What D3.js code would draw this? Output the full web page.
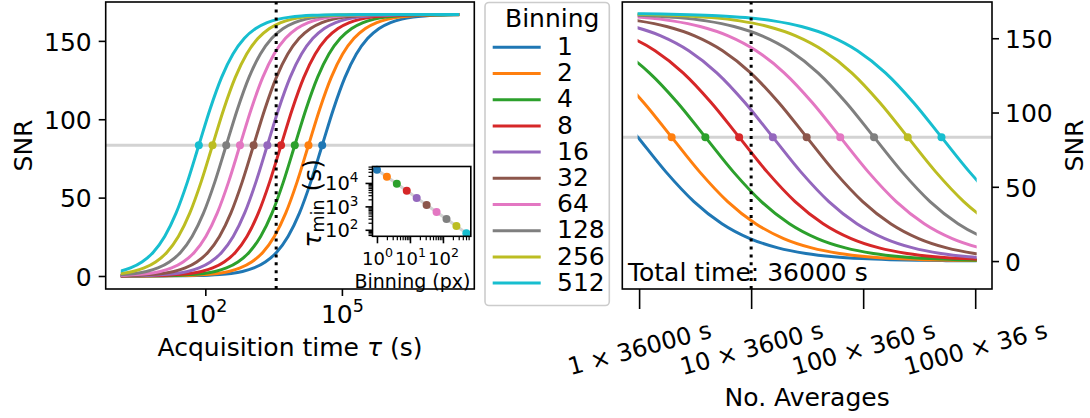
<!DOCTYPE html>
<html>
<head>
<meta charset="utf-8">
<script src="https://cdn.jsdelivr.net/npm/d3@7"></script>
<style>
  body { margin: 0; background: #fff; }
  svg { display: block; font-family: "DejaVu Sans", sans-serif; }
</style>
</head>
<body>
<div id="chart"></div>
<script>
// Data
const binning = [1, 2, 4, 8, 16, 32, 64, 128, 256, 512];
const colors = ["#1f77b4", "#ff7f0e", "#2ca02c", "#d62728", "#9467bd",
                "#8c564b", "#e377c2", "#7f7f7f", "#bcbd22", "#17becf"];
// time to reach half the maximum SNR, per binning (s) - inset values
const tauMin = [36900, 18450, 9225, 4610, 2305, 1150, 577, 288, 144, 72];
// every curve has the same profile: SNR against log10(tau / tau_min)
const profileLogRatio = [-4.75, -4.5, -4.25, -4, -3.75, -3.5, -3.25, -3, -2.75, -2.5,
                         -2.25, -2, -1.75, -1.5, -1.25, -1, -0.75, -0.5, -0.25, 0,
                         0.25, 0.5, 0.75, 1, 1.25, 1.5, 1.75, 2, 2.25, 2.5,
                         2.75, 3, 3.25, 3.5, 3.75, 4, 4.5, 5, 5.5, 6];
const profileSNR = [0.003, 0.005, 0.009, 0.017, 0.030, 0.053, 0.094, 0.167, 0.296, 0.526,
                    0.933, 1.65, 2.91, 5.11, 8.88, 15.16, 25.18, 40.07, 60.04, 83.40,
                    106.76, 126.73, 141.62, 151.64, 157.92, 161.69, 163.89, 165.15, 165.87, 166.27,
                    166.50, 166.63, 166.71, 166.75, 166.77, 166.78, 166.79, 166.80, 166.80, 166.80];
const halfSNR = 83.4;
const tauRange = [1.5, 3.5e7];
const markTime = 3600;
const totalTime = 36000;
const averages = [1, 10, 100, 1000];
const averageLabels = ["1 × 36000 s", "10 × 3600 s", "100 × 360 s", "1000 × 36 s"];
const markAverages = 10;
const snrTicks = [0, 50, 100, 150];
const timeTicks = [1e2, 1e5];
const insetXTicks = [1, 10, 100];
const insetXMinor = [2, 3, 4, 5, 6, 7, 8, 9, 20, 30, 40, 50, 60, 70, 80, 90, 200, 300, 400, 500, 600];
const insetYTicks = [1e2, 1e3, 1e4];
const insetYMinor = [60, 70, 80, 90, 200, 300, 400, 500, 600, 700, 800, 900,
                     2000, 3000, 4000, 5000, 6000, 7000, 8000, 9000, 20000, 30000, 40000, 50000];

const W = 1090, H = 418;
const FS = 25;
const boxL = {x0: 105.7, x1: 474.3, y0: 2, y1: 289};
const boxR = {x0: 622.3, x1: 992, y0: 2, y1: 289};
const boxI = {x0: 372.5, x1: 470.8, y0: 166.5, y1: 236.3};

const svg = d3.select("#chart").append("svg")
    .attr("width", W)
    .attr("height", H);
svg.append("rect").attr("width", W).attr("height", H).attr("fill", "#fff");

const xL = d3.scaleLog().domain([0.6486, 8.09e7]).range([boxL.x0, boxL.x1]);
const yL = d3.scaleLinear().domain([-8.3, 174.8]).range([boxL.y1, boxL.y0]);
const xR = d3.scaleLog().domain([0.7079, 1412.5]).range([boxR.x0, boxR.x1]);
const yR = d3.scaleLinear().domain([-18.8, 174.4]).range([boxR.y1, boxR.y0]);
const xI = d3.scaleLog().domain([0.7328, 698.2]).range([boxI.x0, boxI.x1]);
const yI = d3.scaleLog().domain([52.72, 50466]).range([boxI.y1, boxI.y0]);

const defs = svg.append("defs");
defs.append("clipPath").attr("id", "clipL").append("rect")
    .attr("x", xL(tauRange[0]) - 1.5).attr("y", 0)
    .attr("width", xL(tauRange[1]) - xL(tauRange[0]) + 3).attr("height", H);
defs.append("clipPath").attr("id", "clipR").append("rect")
    .attr("x", xR(averages[0]) - 1.5).attr("y", 0)
    .attr("width", xR(averages[3]) - xR(averages[0]) + 3).attr("height", H);

function styleAxis(g, size) {
    g.attr("font-family", null).attr("font-size", size);
    g.select(".domain").remove();
    g.selectAll(".tick line").attr("stroke", "#000").attr("stroke-width", 1.6);
    g.selectAll(".tick text").attr("fill", "#000");
}

function pow10(sel, supSize, raise) {
    sel.each(function(d) {
        const t = d3.select(this).text(null);
        t.append("tspan").text("10");
        t.append("tspan").attr("font-size", supSize).attr("dy", -raise)
            .text(Math.round(Math.log10(d)));
    });
}

function frame(box) {
    svg.append("rect")
        .attr("x", box.x0).attr("y", box.y0)
        .attr("width", box.x1 - box.x0).attr("height", box.y1 - box.y0)
        .attr("fill", "none").attr("stroke", "#000").attr("stroke-width", 1.6);
}

// ---- left panel: SNR vs acquisition time
svg.append("line")
    .attr("x1", boxL.x0).attr("x2", boxL.x1)
    .attr("y1", yL(halfSNR)).attr("y2", yL(halfSNR))
    .attr("stroke", "#d3d3d3").attr("stroke-width", 3);

const lineL = d3.line().x(d => xL(d[0])).y(d => yL(d[1])).curve(d3.curveMonotoneX);
const gL = svg.append("g").attr("clip-path", "url(#clipL)");
tauMin.forEach((t0, k) => {
    const pts = profileLogRatio.map((r, j) => [t0 * Math.pow(10, r), profileSNR[j]]);
    gL.append("path")
        .attr("d", lineL(pts))
        .attr("fill", "none")
        .attr("stroke", colors[k])
        .attr("stroke-width", 3);
});

svg.selectAll(".dotL")
    .data(tauMin)
    .enter().append("circle")
    .attr("class", "dotL")
    .attr("cx", d => xL(d))
    .attr("cy", yL(halfSNR))
    .attr("r", 4)
    .attr("fill", (d, i) => colors[i]);

svg.append("line")
    .attr("x1", xL(markTime)).attr("x2", xL(markTime))
    .attr("y1", boxL.y1).attr("y2", boxL.y0)
    .attr("stroke", "#000").attr("stroke-width", 3)
    .attr("stroke-dasharray", "3,4.9");

frame(boxL);

const gxL = svg.append("g")
    .attr("transform", `translate(0,${boxL.y1})`)
    .call(d3.axisBottom(xL).tickValues(timeTicks).tickSize(7).tickPadding(7));
styleAxis(gxL, FS);
gxL.selectAll(".tick text").attr("y", 34.3).attr("dy", null).call(pow10, 17.5, 11);

const gyL = svg.append("g")
    .attr("transform", `translate(${boxL.x0},0)`)
    .call(d3.axisLeft(yL).tickValues(snrTicks).tickSize(7).tickPadding(7));
styleAxis(gyL, FS);
gyL.selectAll(".tick text").attr("dy", "0.37em");

svg.append("text")
    .attr("transform", `translate(31.5,${(boxL.y0 + boxL.y1) / 2}) rotate(-90)`)
    .attr("text-anchor", "middle").attr("font-size", FS)
    .text("SNR");

const xlab = svg.append("text")
    .attr("x", (boxL.x0 + boxL.x1) / 2).attr("y", 356)
    .attr("text-anchor", "middle").attr("font-size", FS);
xlab.append("tspan").text("Acquisition time ");
xlab.append("tspan").attr("font-style", "italic").text("τ");
xlab.append("tspan").text(" (s)");

// ---- inset: tau_min vs binning
svg.append("rect")
    .attr("x", boxI.x0).attr("y", boxI.y0)
    .attr("width", boxI.x1 - boxI.x0).attr("height", boxI.y1 - boxI.y0)
    .attr("fill", "#fff");

svg.append("path")
    .attr("d", d3.line().x((d, i) => xI(binning[i])).y(d => yI(d))(tauMin))
    .attr("fill", "none").attr("stroke", "#d3d3d3").attr("stroke-width", 3);

svg.selectAll(".dotI")
    .data(tauMin)
    .enter().append("circle")
    .attr("class", "dotI")
    .attr("cx", (d, i) => xI(binning[i]))
    .attr("cy", d => yI(d))
    .attr("r", 4)
    .attr("fill", (d, i) => colors[i]);

frame(boxI);

const gxI = svg.append("g")
    .attr("transform", `translate(0,${boxI.y1})`)
    .call(d3.axisBottom(xI).tickValues(insetXTicks).tickSize(7).tickPadding(7));
styleAxis(gxI, 18);
gxI.selectAll(".tick text").attr("y", 28.5).attr("dy", null).call(pow10, 12.6, 7.5);

const gxIm = svg.append("g")
    .attr("transform", `translate(0,${boxI.y1})`)
    .call(d3.axisBottom(xI).tickValues(insetXMinor).tickSize(4).tickFormat(""));
styleAxis(gxIm, 10);
gxIm.selectAll(".tick line").attr("stroke-width", 1.2);

const gyI = svg.append("g")
    .attr("transform", `translate(${boxI.x0},0)`)
    .call(d3.axisLeft(yI).tickValues(insetYTicks).tickSize(7).tickPadding(7));
styleAxis(gyI, 19.5);
gyI.selectAll(".tick text").attr("dy", "0.34em").call(pow10, 13.6, 8);

const gyIm = svg.append("g")
    .attr("transform", `translate(${boxI.x0},0)`)
    .call(d3.axisLeft(yI).tickValues(insetYMinor).tickSize(4).tickFormat(""));
styleAxis(gyIm, 10);
gyIm.selectAll(".tick line").attr("stroke-width", 1.2);

svg.append("text")
    .attr("x", 412.5).attr("y", 288)
    .attr("text-anchor", "middle").attr("font-size", 19)
    .text("Binning (px)");

const ylabI = svg.append("text")
    .attr("transform", `translate(320.5,203.3) rotate(-90)`)
    .attr("text-anchor", "middle").attr("font-size", FS);
ylabI.append("tspan").attr("font-style", "italic").text("τ");
ylabI.append("tspan").attr("font-size", 17.5).attr("dy", 3).text("min");
ylabI.append("tspan").attr("dy", -3).text(" (s)");

// ---- legend
const legend = svg.append("g");
legend.append("rect")
    .attr("x", 485).attr("y", 2.5)
    .attr("width", 124.3).attr("height", 303)
    .attr("rx", 4)
    .attr("fill", "#fff").attr("stroke", "#cccccc").attr("stroke-width", 1.6);
legend.append("text")
    .attr("x", 505).attr("y", 26.7)
    .attr("font-size", FS)
    .text("Binning");
const rows = legend.selectAll(".row")
    .data(binning)
    .enter().append("g")
    .attr("class", "row")
    .attr("transform", (d, i) => `translate(0,${47.3 + 26.2 * i})`);
rows.append("line")
    .attr("x1", 492.7).attr("x2", 540.7)
    .attr("stroke", (d, i) => colors[i]).attr("stroke-width", 3);
rows.append("text")
    .attr("x", 557).attr("y", 7.6)
    .attr("font-size", FS)
    .text(d => d);

// ---- right panel: SNR vs number of averages at fixed total time
svg.append("line")
    .attr("x1", boxR.x0).attr("x2", boxR.x1)
    .attr("y1", yR(halfSNR)).attr("y2", yR(halfSNR))
    .attr("stroke", "#d3d3d3").attr("stroke-width", 3);

const lineR = d3.line().x(d => xR(d[0])).y(d => yR(d[1])).curve(d3.curveMonotoneX);
const gR = svg.append("g").attr("clip-path", "url(#clipR)");
tauMin.forEach((t0, k) => {
    const pts = profileLogRatio.map((r, j) => [totalTime / (t0 * Math.pow(10, r)), profileSNR[j]]).reverse();
    gR.append("path")
        .attr("d", lineR(pts))
        .attr("fill", "none")
        .attr("stroke", colors[k])
        .attr("stroke-width", 3);
});

const dotsR = tauMin.map((t0, k) => ({n: totalTime / t0, k}))
    .filter(d => d.n >= averages[0] && d.n <= averages[3]);
svg.selectAll(".dotR")
    .data(dotsR)
    .enter().append("circle")
    .attr("class", "dotR")
    .attr("cx", d => xR(d.n))
    .attr("cy", yR(halfSNR))
    .attr("r", 4)
    .attr("fill", d => colors[d.k]);

svg.append("line")
    .attr("x1", xR(markAverages)).attr("x2", xR(markAverages))
    .attr("y1", boxR.y1).attr("y2", boxR.y0)
    .attr("stroke", "#000").attr("stroke-width", 3)
    .attr("stroke-dasharray", "3,4.9");

svg.append("text")
    .attr("x", 628).attr("y", 281)
    .attr("font-size", FS)
    .text("Total time: " + totalTime + " s");

frame(boxR);

const tickLenR = 20;
const gxR = svg.append("g")
    .attr("transform", `translate(0,${boxR.y1})`)
    .call(d3.axisBottom(xR).tickValues(averages).tickSize(tickLenR).tickPadding(7)
        .tickFormat(d => averageLabels[averages.indexOf(d)]));
styleAxis(gxR, 24);
const ang = 15 * Math.PI / 180;
gxR.selectAll(".tick text").each(function() {
    const w = this.getComputedTextLength();
    const off = tickLenR + 7 + (w * Math.sin(ang) + 28 * Math.cos(ang)) / 2;
    d3.select(this)
        .attr("y", 0).attr("dy", null)
        .attr("text-anchor", "middle")
        .attr("dominant-baseline", "central")
        .attr("transform", `translate(0,${off}) rotate(-15)`);
});

const gyR = svg.append("g")
    .attr("transform", `translate(${boxR.x1},0)`)
    .call(d3.axisRight(yR).tickValues(snrTicks).tickSize(7).tickPadding(6));
styleAxis(gyR, FS);
gyR.selectAll(".tick text").attr("dy", "0.37em");

svg.append("text")
    .attr("transform", `translate(1083,${(boxR.y0 + boxR.y1) / 2}) rotate(-90)`)
    .attr("text-anchor", "middle").attr("font-size", FS)
    .text("SNR");

svg.append("text")
    .attr("x", (boxR.x0 + boxR.x1) / 2).attr("y", 406)
    .attr("text-anchor", "middle").attr("font-size", FS)
    .text("No. Averages");
</script>
</body>
</html>
